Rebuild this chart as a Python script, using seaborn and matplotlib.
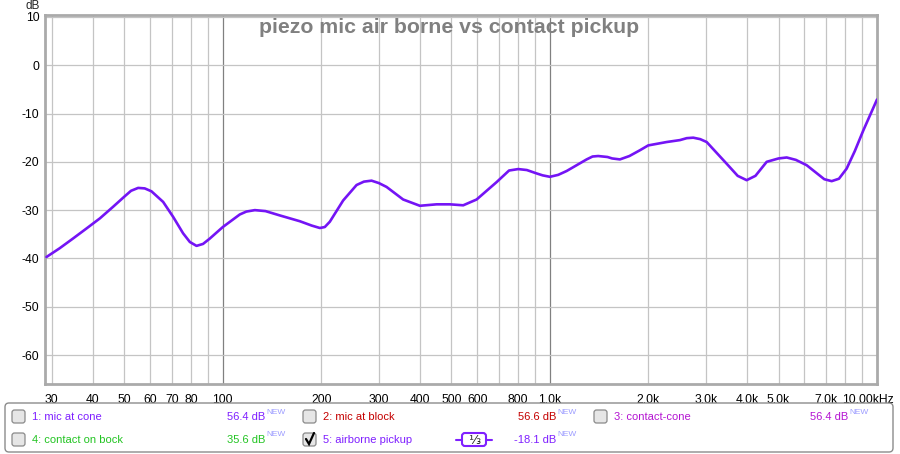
import numpy as np
import pandas as pd
import seaborn as sns
import matplotlib.pyplot as plt
from matplotlib.patches import FancyBboxPatch
from matplotlib.ticker import FixedLocator, FixedFormatter, NullLocator
from matplotlib.transforms import ScaledTranslation

# trace 5 (airborne pickup)
freq_hz = [28.9, 31.7, 34.8, 38.3, 42.1, 46.2, 50.2, 52.4, 55.1, 57.7, 60.5, 65.7, 70.5, 75.6, 79.3, 83.1,
           87.0, 91.2, 100, 112.7, 118, 125.3, 135, 149.4, 172, 187, 198, 205, 212.4, 233.3, 256.4,
           270, 284.9, 300, 316.7, 355.9, 400.4, 450.4, 494.5, 543.2, 596.9, 687.1, 750, 800, 850,
           910.6, 950, 1000, 1060, 1125, 1295, 1350, 1405, 1500, 1550, 1637, 1750, 1885, 1998, 2275,
           2498, 2620, 2743, 2880, 3015, 3471, 3750, 3995, 4250, 4600, 5000, 5296, 5650, 6095, 6900,
           7269, 7650, 8077, 8550, 9081, 10000]
level_db = [-39.7, -37.9, -35.9, -33.8, -31.7, -29.3, -27.1, -26.0, -25.4, -25.5, -26.1, -28.3, -31.4, -34.8,
            -36.6, -37.4, -37.0, -35.9, -33.5, -30.9, -30.3, -30.0, -30.2, -31.1, -32.3, -33.2, -33.7,
            -33.5, -32.4, -28.0, -24.8, -24.1, -23.9, -24.4, -25.2, -27.8, -29.1, -28.8, -28.8, -29.0,
            -27.8, -24.2, -21.8, -21.5, -21.7, -22.4, -22.8, -23.1, -22.7, -21.9, -19.5, -18.9, -18.8,
            -19.0, -19.3, -19.5, -18.8, -17.6, -16.6, -15.9, -15.5, -15.1, -15.0, -15.3, -15.9, -20.4,
            -22.9, -23.8, -22.9, -20.0, -19.3, -19.1, -19.6, -20.7, -23.6, -24.0, -23.5, -21.4, -17.8,
            -13.5, -7.1]

x_tick_values = [30, 40, 50, 60, 70, 80, 100, 200, 300, 400, 500, 600, 800,
                 1000, 2000, 3000, 4000, 5000, 7000, 10000]
x_tick_labels = ['30', '40', '50', '60', '70', '80', '100', '200', '300', '400', '500', '600', '800',
                 '1.0k', '2.0k', '3.0k', '4.0k', '5.0k', '7.0k', '10.00kHz']
y_tick_values = [10, 0, -10, -20, -30, -40, -50, -60]

trace_names = ['1: mic at cone', '2: mic at block', '3: contact-cone', '4: contact on bock', '5: airborne pickup']
trace_levels = ['56.4 dB', '56.6 dB', '56.4 dB', '35.6 dB', '-18.1 dB']
trace_colors = ['#7f1fff', '#c40000', '#b414d2', '#22c422', '#7f1fff']
trace_checked = [False, False, False, False, True]

df = pd.DataFrame({'freq': freq_hz, 'db': level_db})

sns.set_style('white')
plt.rcParams['font.family'] = ['Liberation Sans', 'DejaVu Sans']

f = plt.figure(figsize = (9, 4.54), dpi = 100)

ax = f.add_axes([45/900, 1 - 384/454, 832/900, 369/454])

# grid: every 1..9 step per decade, decades darker
for d in [10, 100, 1000]:
    for k in range(1, 10):
        v = k * d
        if 28 < v <= 10000:
            ax.axvline(v, color = '#808080' if v in (100, 1000) else '#c4c4c4', lw = 0.9, zorder = 0.5)
for v in y_tick_values:
    ax.axhline(v, color = '#c4c4c4', lw = 0.9, zorder = 0.5)

sns.lineplot(x = 'freq', y = 'db', data = df, ax = ax, color = '#7414f5', lw = 1.9, zorder = 3,
             solid_joinstyle = 'round', solid_capstyle = 'round')

ax.set_xscale('log')
ax.set_xlim(28.6, 10000)
ax.set_ylim(-66, 10.4)
ax.xaxis.set_major_locator(FixedLocator(x_tick_values))
ax.xaxis.set_major_formatter(FixedFormatter(x_tick_labels))
ax.xaxis.set_minor_locator(NullLocator())
ax.set_yticks(y_tick_values)
ax.set_yticklabels([str(v) for v in y_tick_values])
ax.tick_params(axis = 'both', length = 0, labelsize = 8.7, labelcolor = 'black')
ax.tick_params(axis = 'x', pad = 7)
ax.tick_params(axis = 'y', pad = 4)
ax.set_xlabel('')
ax.set_ylabel('')
for s in ax.spines.values():
    s.set_color('#aaaaaa')
    s.set_linewidth(2.0)

lab = ax.get_xticklabels()[-1]
lab.set_transform(lab.get_transform() + ScaledTranslation(-0.09, 0, f.dpi_scale_trans))

f.text(33/900, 1 - 6/454, 'dB', ha = 'center', va = 'center', fontsize = 8.5)
f.text(449/900, 1 - 33/454, 'piezo mic air borne vs contact pickup', ha = 'center', va = 'baseline',
       fontsize = 15.3, fontweight = 'bold', color = '#808080')

# legend panel drawn in pixel coordinates
lg = f.add_axes([0, 0, 1, 1])
lg.set_xlim(0, 900)
lg.set_ylim(454, 0)
lg.axis('off')
lg.add_patch(FancyBboxPatch((5, 403), 888, 49, boxstyle = 'round,pad=0,rounding_size=4',
                            fc = 'white', ec = '#8c8c8c', lw = 1))

box_x = [12, 303, 594, 12, 303]
row_y = [417, 417, 417, 440, 440]
level_end = [265, 556, 848, 265, 556]

for i in range(5):
    bx, by = box_x[i], row_y[i]
    lg.add_patch(FancyBboxPatch((bx, by - 7), 13, 13, boxstyle = 'round,pad=0,rounding_size=2.5',
                                fc = '#e6e6e6', ec = '#8a8a8a', lw = 0.9))
    if trace_checked[i]:
        lg.plot([bx + 3, bx + 6, bx + 11], [by - 1, by + 4, by - 7], color = 'black', lw = 1.6,
                solid_capstyle = 'round', solid_joinstyle = 'miter')
    lg.text(bx + 20, by, trace_names[i], color = trace_colors[i], fontsize = 8, ha = 'left', va = 'center')
    lg.text(level_end[i], by, trace_levels[i], color = trace_colors[i], fontsize = 8, ha = 'right', va = 'center')
    lg.text(level_end[i] + 1, by - 5, 'NEW', color = '#9c9cff', fontsize = 6, ha = 'left', va = 'center')

# smoothing marker
lg.plot([456, 492], [440, 440], color = '#7f1fff', lw = 1.5)
lg.add_patch(FancyBboxPatch((462, 433), 24, 13, boxstyle = 'round,pad=0,rounding_size=3',
                            fc = 'white', ec = '#7f1fff', lw = 1.5, zorder = 3))
lg.text(474, 440, '\u2153', ha = 'center', va = 'center', fontsize = 9, family = ['DejaVu Sans'], zorder = 4)

f.savefig('out.png', dpi = 100)
